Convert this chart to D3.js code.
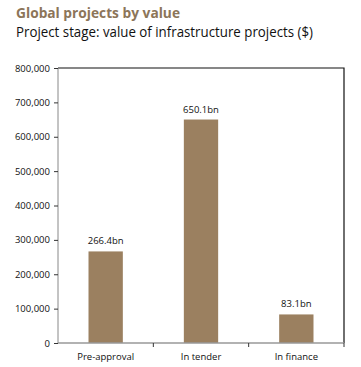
<!DOCTYPE html>
<html><head><meta charset="utf-8">
<script src="https://cdn.jsdelivr.net/npm/d3@7"></script>
<style>
html,body{margin:0;padding:0;background:#fff;}
svg{display:block;font-family:"Open Sans",sans-serif;}
</style></head>
<body>
<svg id="chart" width="361" height="367"></svg>
<script>
const categories = ["Pre-approval", "In tender", "In finance"];
const values = [266400, 650100, 83100];
const valueLabels = ["266.4bn", "650.1bn", "83.1bn"];
const yTicks = [0, 100000, 200000, 300000, 400000, 500000, 600000, 700000, 800000];
const title = "Global projects by value";
const subtitle = "Project stage: value of infrastructure projects ($)";

const svg = d3.select("#chart");
const m = {left: 58, right: 344, top: 68, bottom: 343};

const t1 = svg.append("text").attr("x", 16).attr("y", 18)
  .attr("font-size", 14.5).attr("font-weight", "bold").attr("fill", "#8c7559")
  .text(title);
const t2 = svg.append("text").attr("x", 16).attr("y", 37)
  .attr("font-size", 13.8).attr("fill", "#111")
  .text(subtitle);
// fit widths to reference extents
[[t1, 164], [t2, 297]].forEach(([t, w]) => {
  const bw = t.node().getComputedTextLength();
  if (Math.abs(bw - w) > 2) t.attr("textLength", w).attr("lengthAdjust", "spacingAndGlyphs");
});

const x = d3.scaleBand().domain(categories).range([m.left, m.right]).paddingInner(0.64).paddingOuter(0.32);
const xb = d3.scaleBand().domain(categories).range([m.left, m.right]);
const y = d3.scaleLinear().domain([0, 800000]).range([m.bottom, m.top]);

// frame top/right
svg.append("path").attr("d", `M${m.left},${m.top}H${m.right}V${m.bottom}`)
  .attr("fill", "none").attr("stroke", "#111").attr("stroke-width", 1.2);

// bars
svg.selectAll("rect.bar").data(values).join("rect").attr("class", "bar")
  .attr("x", (d, i) => x(categories[i]))
  .attr("width", x.bandwidth())
  .attr("y", d => y(d))
  .attr("height", d => y(0) - y(d))
  .attr("fill", "#9b8060");

svg.selectAll("text.vl").data(values).join("text").attr("class", "vl")
  .attr("x", (d, i) => x(categories[i]) + x.bandwidth() / 2)
  .attr("y", d => y(d) - 7)
  .attr("text-anchor", "middle").attr("font-size", 9.5).attr("fill", "#111")
  .text((d, i) => valueLabels[i]);

// y axis
const yAxis = d3.axisLeft(y).tickValues(yTicks).tickFormat(d3.format(",")).tickSize(4).tickPadding(4);
const gy = svg.append("g").attr("transform", `translate(${m.left},0)`).call(yAxis);
gy.select(".domain").attr("stroke", "#888").attr("d", `M0,${m.top}V${m.bottom}`);
gy.selectAll(".tick line").attr("stroke", "#333");
gy.selectAll(".tick text").attr("font-size", 9.5).attr("fill", "#111").attr("font-family", "Open Sans, sans-serif");

// x axis
const gx = svg.append("g").attr("transform", `translate(0,${m.bottom})`);
gx.append("path").attr("d", `M${m.left},0H${m.right}`).attr("stroke", "#999").attr("stroke-width", 1.5);
const boundaries = categories.map(c => xb(c)).concat([m.right]).slice(1);
gx.selectAll("line.bt").data(boundaries).join("line").attr("class", "bt")
  .attr("x1", d => d).attr("x2", d => d).attr("y1", 0).attr("y2", 4)
  .attr("stroke", "#333");
gx.selectAll("text.cl").data(categories).join("text").attr("class", "cl")
  .attr("x", d => xb(d) + xb.bandwidth() / 2).attr("y", 17)
  .attr("text-anchor", "middle").attr("font-size", 9.5).attr("fill", "#111")
  .text(d => d);
</script>
</body></html>
